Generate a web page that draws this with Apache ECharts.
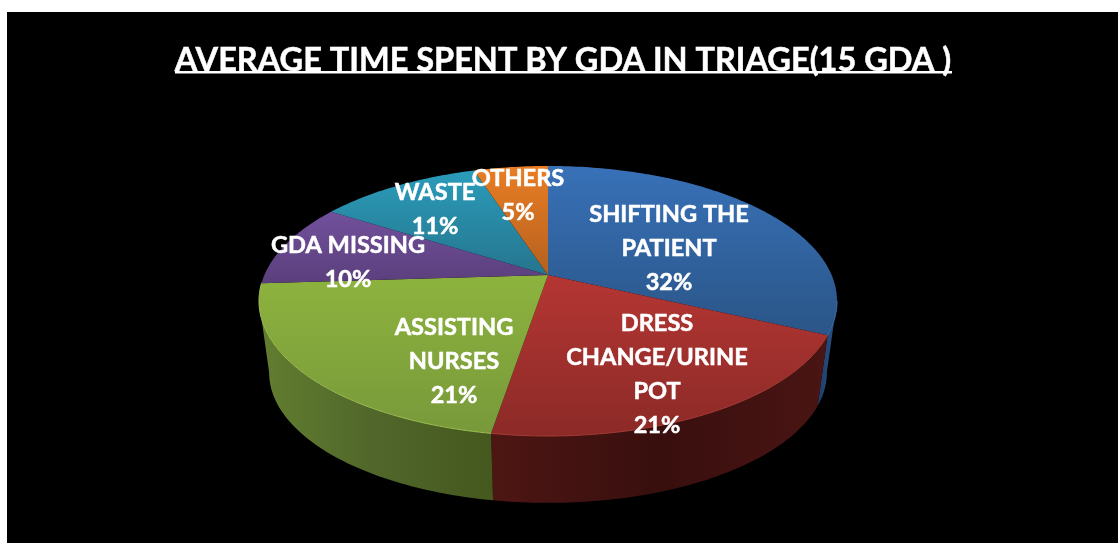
<!DOCTYPE html>
<html><head><meta charset="utf-8">
<script src="https://cdn.jsdelivr.net/npm/echarts@6/dist/echarts.min.js"></script>
<style>html,body{margin:0;padding:0;background:#fff}#c{width:1118px;height:543px}</style>
</head><body><div id="c"></div>
<script>
const titleText = 'AVERAGE TIME SPENT BY GDA IN TRIAGE(15 GDA )';
const categories = ['SHIFTING THE\nPATIENT', 'DRESS\nCHANGE/URINE\nPOT', 'ASSISTING\nNURSES', 'GDA MISSING', 'WASTE', 'OTHERS'];
const values = [32, 20.6, 21.4, 10, 11, 5];

// styling and layout, kept apart from the data
const topColors = [['#3871b8','#2a5587'],['#b53633','#8b2a27'],['#8db33e','#78993a'],['#72509c','#5a3f7c'],['#2a9cba','#26758e'],['#e97d24','#b5611f']];
const wallColors = [['#1e3e6b','#2a5184'],['#4d1613','#380f0e','#4a1513'],['#627e30','#50662a','#45581e'],['#4a3566','#4a3566'],['#1d6a80','#1d6a80'],['#a05a1a','#a05a1a']];
const rimColors = ['#3a6eb0','#a83a36','#9cbf52','#6a4c92','#2a90ac','#d87a2a'];
const labelCenters = [[669,248],[657,374],[454,361],[348,262],[435,209.5],[518,195]];
const C = {x:548, y:275, rx:283.6, ry:130, k:0.1926, bottomScale:0.965, bottomY:347.5};

const total = values.reduce((a,b)=>a+b,0);
const startAngle = i => values.slice(0,i).reduce((a,b)=>a+b,0)/total*360;
function project(deg, scale, cy){
  const r = deg*Math.PI/180, st = -Math.cos(r), ct = Math.sin(r), d = 1 - C.k*st;
  return [C.x + scale*C.rx*ct/d, cy + scale*C.ry*st/d];
}
const topRim = d => project(d,1,C.y);
const botRim = d => project(d,C.bottomScale,C.bottomY);
function arc(fn,a,b){const p=[];const n=Math.max(2,Math.ceil(Math.abs(b-a)));for(let i=0;i<=n;i++)p.push(fn(a+(b-a)*i/n));return p;}
const stops = cs => cs.map((c,i)=>({offset:i/(cs.length-1),color:c}));
const grad = (cs,h) => ({type:'linear',x:0,y:0,x2:h?1:0,y2:h?0:1,colorStops:stops(cs)});
const FRONT_A = 101, FRONT_B = 259;

function renderWall(params, api){
  const i = params.dataIndex, a = startAngle(i), b = a + api.value(0)/total*360;
  const s = Math.max(a,FRONT_A), e = Math.min(b,FRONT_B);
  if(e<=s) return null;
  const pts = arc(topRim,s,e).concat(arc(botRim,e,s));
  return {type:'polygon',shape:{points:pts},style:{fill:grad(wallColors[i],true)}};
}
function renderTop(params, api){
  const i = params.dataIndex, a = startAngle(i), b = a + api.value(0)/total*360;
  const rim = arc(topRim,a,b);
  const children = [{type:'polygon',shape:{points:[[C.x,C.y]].concat(rim)},style:{fill:grad(topColors[i],false)}}];
  const s = Math.max(a,FRONT_A), e = Math.min(b,FRONT_B+8);
  if(e>s) children.push({type:'polyline',shape:{points:arc(topRim,s,e)},style:{fill:'none',stroke:rimColors[i],lineWidth:1}});
  return {type:'group',children};
}
function renderLabel(params, api){
  const i = params.dataIndex, c = labelCenters[i];
  return {type:'text',x:c[0],y:c[1],style:{
    text:categories[i]+'\n'+Math.round(api.value(0)/total*100)+'%',
    fill:'#fff',stroke:'#fff',lineWidth:0.5,font:'bold 23.6px Lato, "Open Sans", sans-serif',align:'center',verticalAlign:'middle',lineHeight:34}};
}
const rows = values.map(v=>[v]);
const chart = echarts.init(document.getElementById('c'),null,{renderer:'canvas'});
chart.setOption({
  animation:false,
  backgroundColor:'#fff',
  title:{text:titleText,left:558,top:39,textAlign:'center',
    textStyle:{color:'#fff',fontSize:32.5,fontWeight:'bold',fontFamily:'Lato, "Open Sans", sans-serif',textBorderColor:'#fff',textBorderWidth:0.5}},
  graphic:[
    {type:'rect',z:-10,shape:{x:7,y:12,width:1111,height:531},style:{fill:'#000'}},
    {type:'rect',z:5,shape:{x:175,y:71,width:777,height:2.5},style:{fill:'#fff'}}
  ],
  series:[
    {type:'custom',coordinateSystem:'none',z:2,silent:true,data:rows,renderItem:renderWall},
    {type:'custom',coordinateSystem:'none',z:3,silent:true,data:rows,renderItem:renderTop},
    {type:'custom',coordinateSystem:'none',z:4,silent:true,data:rows,renderItem:renderLabel}
  ]
});
</script></body></html>
